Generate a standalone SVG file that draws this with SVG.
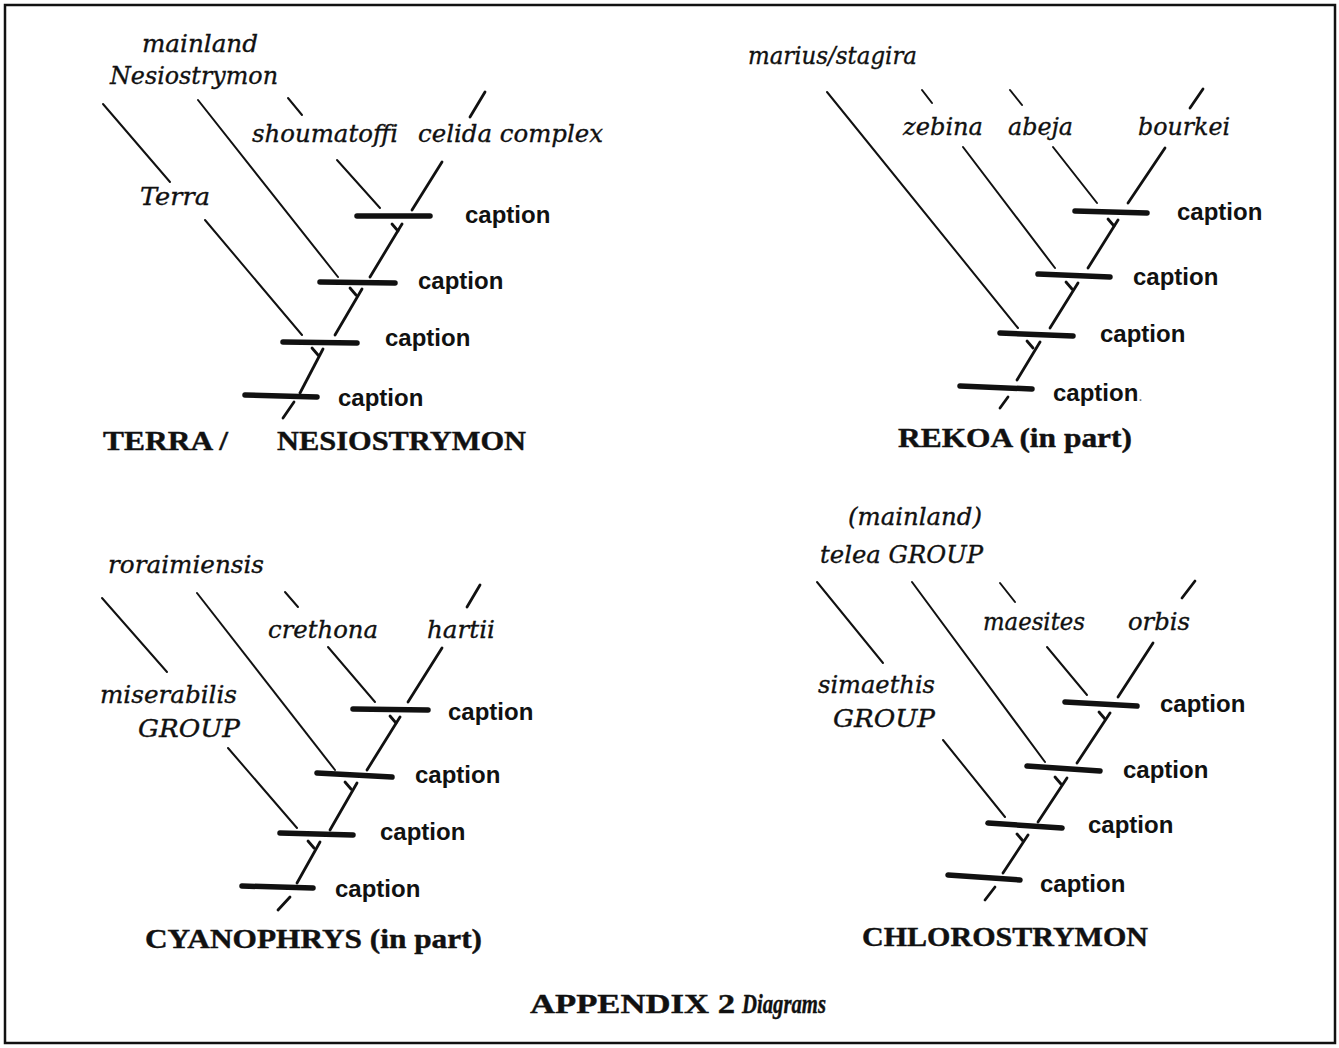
<svg xmlns="http://www.w3.org/2000/svg" width="1339" height="1048" viewBox="0 0 1339 1048">
<style>
.lbl{font-family:"DejaVu Serif","Liberation Serif",serif;font-style:italic;font-size:25px;fill:#111;stroke:#111;stroke-width:0.35}
.cap{font-family:"Liberation Sans",Arial,sans-serif;font-weight:bold;font-size:24px;fill:#111}
.ttl{font-family:"Liberation Serif","Times New Roman",serif;font-weight:bold;font-size:27px;fill:#111;stroke:#111;stroke-width:0.4}
.thin{stroke:#111;stroke-width:2;stroke-linecap:round;fill:none}
.stem{stroke:#111;stroke-width:2.8;stroke-linecap:round;fill:none}
.bar{stroke:#111;stroke-width:5.5;stroke-linecap:round;fill:none}
</style>
<rect width="1339" height="1048" fill="#fff"/>
<rect x="5" y="5" width="1330" height="1038" fill="none" stroke="#111" stroke-width="2.5"/>

<!-- Quadrant 1: TERRA / NESIOSTRYMON -->
<g id="terra-nesiostrymon">
  <g id="q1-connectors">
    <line class="thin" x1="103" y1="104" x2="170" y2="182"/>
    <line class="thin" x1="205" y1="220" x2="302" y2="335"/>
    <line class="thin" x1="198" y1="100" x2="338" y2="277"/>
    <line class="thin" x1="288" y1="98" x2="302" y2="115"/>
    <line class="thin" x1="337" y1="160" x2="380" y2="208"/>
    <line class="stem" x1="485" y1="92" x2="470" y2="117"/>
    <line class="stem" x1="442" y1="162" x2="412" y2="210"/>
    <line class="stem" x1="402" y1="224" x2="370" y2="277"/>
    <line class="stem" x1="392" y1="224" x2="398" y2="231"/>
    <line class="stem" x1="362" y1="289" x2="335" y2="335"/>
    <line class="stem" x1="350" y1="288" x2="356" y2="295"/>
    <line class="stem" x1="323" y1="349" x2="300" y2="393"/>
    <line class="stem" x1="312" y1="348" x2="318" y2="355"/>
    <line class="stem" x1="294" y1="402" x2="283" y2="418"/>
  </g>
  <g id="q1-mainland-nesiostrymon"><text class="lbl" x="142" y="52" textLength="116" lengthAdjust="spacingAndGlyphs">mainland</text><text class="lbl" x="110" y="84" textLength="168" lengthAdjust="spacingAndGlyphs">Nesiostrymon</text></g>
  <g id="q1-terra"><text class="lbl" x="140" y="205" textLength="70" lengthAdjust="spacingAndGlyphs">Terra</text></g>
  <g id="q1-shoumatoffi"><text class="lbl" x="252" y="142" textLength="146" lengthAdjust="spacingAndGlyphs">shoumatoffi</text></g>
  <g id="q1-celida"><text class="lbl" x="418" y="142" textLength="185" lengthAdjust="spacingAndGlyphs">celida complex</text></g>
  <g id="q1-node1"><line class="bar" x1="357" y1="216" x2="430" y2="216"/><text class="cap" x="465" y="223">caption</text></g>
  <g id="q1-node2"><line class="bar" x1="320" y1="282" x2="395" y2="283"/><text class="cap" x="418" y="289">caption</text></g>
  <g id="q1-node3"><line class="bar" x1="283" y1="342" x2="357" y2="343"/><text class="cap" x="385" y="346">caption</text></g>
  <g id="q1-node4"><line class="bar" x1="245" y1="395" x2="317" y2="397"/><text class="cap" x="338" y="406">caption</text></g>
  <g id="q1-title"><text class="ttl" x="103" y="450" textLength="125" lengthAdjust="spacingAndGlyphs">TERRA /</text><text class="ttl" x="277" y="450" textLength="249" lengthAdjust="spacingAndGlyphs">NESIOSTRYMON</text></g>
</g>

<!-- Quadrant 2: REKOA -->
<g id="rekoa">
  <g id="q2-connectors">
    <line class="thin" x1="827" y1="92" x2="1018" y2="328"/>
    <line class="thin" x1="922" y1="90" x2="932" y2="103"/>
    <line class="thin" x1="1010" y1="90" x2="1022" y2="105"/>
    <line class="stem" x1="1203" y1="89" x2="1190" y2="108"/>
    <line class="thin" x1="963" y1="147" x2="1055" y2="268"/>
    <line class="thin" x1="1053" y1="147" x2="1097" y2="203"/>
    <line class="stem" x1="1165" y1="148" x2="1128" y2="203"/>
    <line class="stem" x1="1118" y1="220" x2="1088" y2="268"/>
    <line class="stem" x1="1108" y1="219" x2="1114" y2="226"/>
    <line class="stem" x1="1078" y1="283" x2="1050" y2="328"/>
    <line class="stem" x1="1066" y1="282" x2="1072" y2="289"/>
    <line class="stem" x1="1040" y1="342" x2="1017" y2="380"/>
    <line class="stem" x1="1027" y1="341" x2="1033" y2="348"/>
    <line class="stem" x1="1008" y1="397" x2="1000" y2="408"/>
  </g>
  <g id="q2-marius"><text class="lbl" x="748" y="64" textLength="169" lengthAdjust="spacingAndGlyphs">marius/stagira</text></g>
  <g id="q2-zebina"><text class="lbl" x="903" y="135" textLength="80" lengthAdjust="spacingAndGlyphs">zebina</text></g>
  <g id="q2-abeja"><text class="lbl" x="1008" y="135" textLength="65" lengthAdjust="spacingAndGlyphs">abeja</text></g>
  <g id="q2-bourkei"><text class="lbl" x="1138" y="135" textLength="92" lengthAdjust="spacingAndGlyphs">bourkei</text></g>
  <g id="q2-node1"><line class="bar" x1="1075" y1="211" x2="1147" y2="213"/><text class="cap" x="1177" y="220">caption</text></g>
  <g id="q2-node2"><line class="bar" x1="1038" y1="274" x2="1110" y2="277"/><text class="cap" x="1133" y="285">caption</text></g>
  <g id="q2-node3"><line class="bar" x1="1000" y1="333" x2="1073" y2="336"/><text class="cap" x="1100" y="342">caption</text></g>
  <g id="q2-node4"><line class="bar" x1="960" y1="386" x2="1032" y2="389"/><text class="cap" x="1053" y="401">caption<tspan font-weight="normal" font-size="16" fill="#777">.</tspan></text></g>
  <g id="q2-title"><text class="ttl" x="898" y="447" textLength="234" lengthAdjust="spacingAndGlyphs">REKOA (in part)</text></g>
</g>

<!-- Quadrant 3: CYANOPHRYS -->
<g id="cyanophrys">
  <g id="q3-connectors">
    <line class="thin" x1="102" y1="598" x2="167" y2="672"/>
    <line class="thin" x1="228" y1="748" x2="297" y2="828"/>
    <line class="thin" x1="197" y1="593" x2="335" y2="770"/>
    <line class="thin" x1="285" y1="592" x2="298" y2="607"/>
    <line class="thin" x1="328" y1="647" x2="375" y2="702"/>
    <line class="stem" x1="480" y1="585" x2="467" y2="607"/>
    <line class="stem" x1="442" y1="648" x2="408" y2="702"/>
    <line class="stem" x1="400" y1="717" x2="367" y2="770"/>
    <line class="stem" x1="390" y1="716" x2="396" y2="723"/>
    <line class="stem" x1="357" y1="783" x2="330" y2="830"/>
    <line class="stem" x1="345" y1="782" x2="351" y2="789"/>
    <line class="stem" x1="320" y1="842" x2="297" y2="883"/>
    <line class="stem" x1="308" y1="841" x2="314" y2="848"/>
    <line class="stem" x1="290" y1="897" x2="278" y2="910"/>
  </g>
  <g id="q3-roraimiensis"><text class="lbl" x="108" y="573" textLength="156" lengthAdjust="spacingAndGlyphs">roraimiensis</text></g>
  <g id="q3-miserabilis"><text class="lbl" x="100" y="703" textLength="137" lengthAdjust="spacingAndGlyphs">miserabilis</text><text class="lbl" x="138" y="737" textLength="102" lengthAdjust="spacingAndGlyphs">GROUP</text></g>
  <g id="q3-crethona"><text class="lbl" x="268" y="638" textLength="110" lengthAdjust="spacingAndGlyphs">crethona</text></g>
  <g id="q3-hartii"><text class="lbl" x="427" y="638" textLength="68" lengthAdjust="spacingAndGlyphs">hartii</text></g>
  <g id="q3-node1"><line class="bar" x1="353" y1="709" x2="428" y2="710"/><text class="cap" x="448" y="720">caption</text></g>
  <g id="q3-node2"><line class="bar" x1="317" y1="773" x2="392" y2="777"/><text class="cap" x="415" y="783">caption</text></g>
  <g id="q3-node3"><line class="bar" x1="280" y1="833" x2="353" y2="835"/><text class="cap" x="380" y="840">caption</text></g>
  <g id="q3-node4"><line class="bar" x1="242" y1="886" x2="313" y2="888"/><text class="cap" x="335" y="897">caption</text></g>
  <g id="q3-title"><text class="ttl" x="145" y="948" textLength="337" lengthAdjust="spacingAndGlyphs">CYANOPHRYS (in part)</text></g>
</g>

<!-- Quadrant 4: CHLOROSTRYMON -->
<g id="chlorostrymon">
  <g id="q4-connectors">
    <line class="thin" x1="817" y1="582" x2="883" y2="663"/>
    <line class="thin" x1="912" y1="582" x2="1045" y2="762"/>
    <line class="thin" x1="1000" y1="583" x2="1015" y2="602"/>
    <line class="stem" x1="1195" y1="581" x2="1182" y2="598"/>
    <line class="thin" x1="1047" y1="647" x2="1087" y2="695"/>
    <line class="stem" x1="1153" y1="643" x2="1118" y2="697"/>
    <line class="thin" x1="943" y1="740" x2="1005" y2="817"/>
    <line class="stem" x1="1110" y1="713" x2="1077" y2="763"/>
    <line class="stem" x1="1099" y1="712" x2="1105" y2="719"/>
    <line class="stem" x1="1067" y1="778" x2="1038" y2="822"/>
    <line class="stem" x1="1055" y1="777" x2="1061" y2="784"/>
    <line class="stem" x1="1028" y1="835" x2="1003" y2="873"/>
    <line class="stem" x1="1017" y1="834" x2="1023" y2="841"/>
    <line class="stem" x1="995" y1="887" x2="985" y2="900"/>
  </g>
  <g id="q4-telea"><text class="lbl" x="848" y="525" textLength="134" lengthAdjust="spacingAndGlyphs">(mainland)</text><text class="lbl" x="820" y="563" textLength="163" lengthAdjust="spacingAndGlyphs">telea GROUP</text></g>
  <g id="q4-maesites"><text class="lbl" x="983" y="630" textLength="102" lengthAdjust="spacingAndGlyphs">maesites</text></g>
  <g id="q4-orbis"><text class="lbl" x="1128" y="630" textLength="62" lengthAdjust="spacingAndGlyphs">orbis</text></g>
  <g id="q4-simaethis"><text class="lbl" x="818" y="693" textLength="117" lengthAdjust="spacingAndGlyphs">simaethis</text><text class="lbl" x="833" y="727" textLength="102" lengthAdjust="spacingAndGlyphs">GROUP</text></g>
  <g id="q4-node1"><line class="bar" x1="1065" y1="702" x2="1137" y2="706"/><text class="cap" x="1160" y="712">caption</text></g>
  <g id="q4-node2"><line class="bar" x1="1027" y1="766" x2="1100" y2="771"/><text class="cap" x="1123" y="778">caption</text></g>
  <g id="q4-node3"><line class="bar" x1="988" y1="823" x2="1062" y2="828"/><text class="cap" x="1088" y="833">caption</text></g>
  <g id="q4-node4"><line class="bar" x1="948" y1="875" x2="1020" y2="880"/><text class="cap" x="1040" y="892">caption</text></g>
  <g id="q4-title"><text class="ttl" x="862" y="946" textLength="286" lengthAdjust="spacingAndGlyphs">CHLOROSTRYMON</text></g>
</g>

<g id="footer"><text class="ttl" x="530" y="1013" font-size="21" textLength="205" lengthAdjust="spacingAndGlyphs">APPENDIX 2</text><text class="ttl" x="742" y="1013" font-size="24" font-style="italic" textLength="84" lengthAdjust="spacingAndGlyphs">Diagrams</text></g>
</svg>
